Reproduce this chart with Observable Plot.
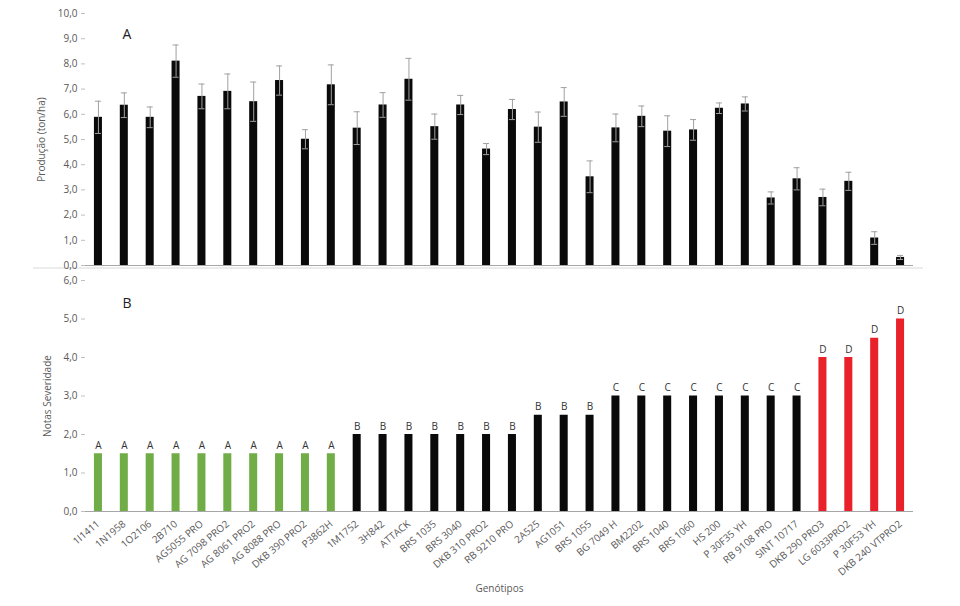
<!DOCTYPE html>
<html>
<head>
<meta charset="utf-8">
<script src="https://cdn.jsdelivr.net/npm/d3@7"></script>
<script src="https://cdn.jsdelivr.net/npm/@observablehq/plot@0.6"></script>
<style>
  html, body { margin: 0; padding: 0; background: #fff; }
  body { width: 960px; height: 606px; position: relative; overflow: hidden; font-family: "Open Sans", sans-serif; }
  #panelA { position: absolute; left: 0; top: 0; z-index: 2; }
  #sep { position: absolute; left: 33px; top: 267px; width: 890px; height: 2px; background: #ececec; z-index: 1; }
  #panelB { position: absolute; left: 0; top: 270px; z-index: 1; }
  svg { font-family: "Open Sans", sans-serif; background: none !important; }
</style>
</head>
<body>
<div id="panelA"></div>
<div id="sep"></div>
<div id="panelB"></div>
<script>
const genotypes = ["1I1411","1N1958","1O2106","2B710","AG5055 PRO","AG 7098 PRO2","AG 8061 PRO2","AG 8088 PRO","DKB 390 PRO2","P3862H","1M1752","3H842","ATTACK","BRS 1035","BRS 3040","DKB 310 PRO2","RB 9210 PRO","2A525","AG1051","BRS 1055","BG 7049 H","BM2202","BRS 1040","BRS 1060","HS 200","P 30F35 YH","RB 9108 PRO","SINT 10717","DKB 290 PRO3","LG 6033PRO2","P 30F53 YH","DKB 240 VTPRO2"];
const production = [5.88,6.36,5.88,8.11,6.71,6.91,6.50,7.34,5.01,7.17,5.45,6.37,7.39,5.51,6.37,4.62,6.19,5.49,6.49,3.52,5.46,5.92,5.33,5.38,6.24,6.41,2.68,3.44,2.70,3.34,1.09,0.32];
const productionError = [0.64,0.49,0.41,0.64,0.49,0.69,0.78,0.58,0.38,0.79,0.65,0.49,0.83,0.50,0.38,0.22,0.40,0.60,0.57,0.63,0.55,0.41,0.61,0.41,0.21,0.28,0.24,0.44,0.33,0.36,0.25,0.08];
const severity = [1.5,1.5,1.5,1.5,1.5,1.5,1.5,1.5,1.5,1.5,2,2,2,2,2,2,2,2.5,2.5,2.5,3,3,3,3,3,3,3,3,4,4,4.5,5];
const groups = ["A","A","A","A","A","A","A","A","A","A","B","B","B","B","B","B","B","B","B","B","C","C","C","C","C","C","C","C","D","D","D","D"];
const yTicksA = [0,1,2,3,4,5,6,7,8,9,10];
const yTicksB = [0,1,2,3,4,5,6];
const groupDomain = ["A","B","C","D"];
const groupColors = ["#70AD47","#0a0a0a","#0a0a0a","#E8212B"];

const rowsA = genotypes.map((g, i) => ({g, v: production[i], e: productionError[i]}));
const rowsB = genotypes.map((g, i) => ({g, v: severity[i], grp: groups[i]}));

const comma = d => d3.format(".1f")(d).replace(".", ",");
const axisGray = "#bfbfbf";
const textGray = "#595959";

const xScale = {domain: genotypes, paddingInner: 0.69, paddingOuter: 0.345, round: false};

const chartA = Plot.plot({
  width: 960, height: 276,
  marginLeft: 85, marginRight: 47, marginTop: 13, marginBottom: 11,
  style: {fontSize: "10px", color: textGray, fontFamily: "Open Sans, sans-serif", background: "none"},
  x: {...xScale, axis: null},
  y: {domain: [0, 10]},
  marks: [
    Plot.axisY({ticks: yTicksA, tickFormat: comma, tickSize: 4, tickPadding: 4, stroke: axisGray, fill: textGray,
      label: "Produção (ton/ha)", labelAnchor: "center", labelOffset: 48, labelArrow: "none"}),
    Plot.ruleX([0], {stroke: axisGray, frameAnchor: "left"}),
    Plot.barY(rowsA, {x: "g", y: "v", fill: "#0a0a0a"}),
    Plot.ruleX(rowsA, {x: "g", y1: d => d.v - d.e, y2: d => d.v + d.e, stroke: "#a0a0a0", strokeWidth: 1}),
    Plot.tickY(rowsA, {x: "g", y: d => d.v + d.e, stroke: "#a0a0a0", inset: 1}),
    Plot.tickY(rowsA, {x: "g", y: d => d.v - d.e, stroke: "#a0a0a0", inset: 1}),
    Plot.ruleY([0], {stroke: "#a6a6a6", strokeWidth: 1.2}),
    Plot.text(["A"], {frameAnchor: "top-left", dx: 37, dy: 16, fontSize: 14, fill: "#222"})
  ]
});
document.getElementById("panelA").appendChild(chartA);

const chartB = Plot.plot({
  width: 960, height: 336,
  marginLeft: 85, marginRight: 47, marginTop: 10, marginBottom: 95,
  style: {fontSize: "10px", color: textGray, fontFamily: "Open Sans, sans-serif", background: "none"},
  x: {...xScale},
  y: {domain: [0, 6]},
  color: {domain: groupDomain, range: groupColors},
  marks: [
    Plot.axisY({ticks: yTicksB, tickFormat: comma, tickSize: 4, tickPadding: 4, stroke: axisGray, fill: textGray,
      label: "Notas Severidade", labelAnchor: "center", labelOffset: 42, labelArrow: "none"}),
    Plot.axisX({tickSize: 0, tickPadding: 11, tickRotate: -40, fill: textGray,
      label: "Genótipos", labelAnchor: "center", labelOffset: 80, labelArrow: "none"}),
    Plot.ruleX([0], {stroke: axisGray, frameAnchor: "left"}),
    Plot.barY(rowsB, {x: "g", y: "v", fill: "grp"}),
    Plot.text(rowsB, {x: "g", y: "v", text: "grp", dy: -8, fontSize: 10, fill: "#333"}),
    Plot.ruleY([0], {stroke: "#a6a6a6", strokeWidth: 1.2}),
    Plot.text(["B"], {frameAnchor: "top-left", dx: 37, dy: 18, fontSize: 14, fill: "#222"})
  ]
});
document.getElementById("panelB").appendChild(chartB);
</script>
</body>
</html>
